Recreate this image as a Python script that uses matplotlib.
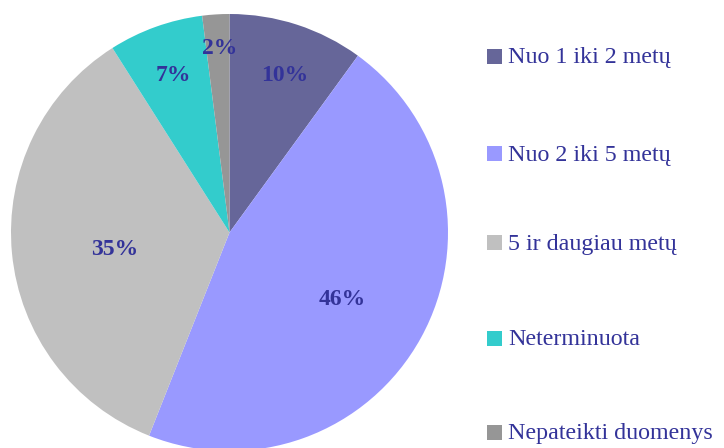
import matplotlib
matplotlib.use("Agg")
import matplotlib.pyplot as plt
from matplotlib.patches import Rectangle
import numpy as np

categories = ["Nuo 1 iki 2 metų", "Nuo 2 iki 5 metų", "5 ir daugiau metų",
              "Neterminuota", "Nepateikti duomenys"]
values = [10, 46, 35, 7, 2]
colors = ["#666699", "#9999FF", "#C0C0C0", "#33CCCC", "#969696"]
label_radius = [0.78, 0.58, 0.54, 0.79, 0.87]
text_color = "#333399"

W, H = 724, 448
fig = plt.figure(figsize=(W / 100, H / 100), dpi=100)
cx, cy, R = 229.5, 448 - 232.5, 218.5
ax = fig.add_axes([(cx - R) / W, (cy - R) / H, 2 * R / W, 2 * R / H])
wedges, _ = ax.pie(values, colors=colors, startangle=90, counterclock=False,
                   radius=1.0, wedgeprops=dict(linewidth=0))
ax.set_xlim(-1, 1)
ax.set_ylim(-1, 1)
ax.set_aspect("equal")
ax.axis("off")

for w, v, r in zip(wedges, values, label_radius):
    ang = np.deg2rad((w.theta1 + w.theta2) / 2)
    ax.text(r * np.cos(ang) + 0.01, r * np.sin(ang) - 0.025, f"{v}%", ha="center",
            va="center", fontsize=17, fontweight="bold", family="Liberation Serif",
            color=text_color)

legend_y = [57, 154, 243, 338, 432]
for cat, col, y in zip(categories, colors, legend_y):
    sq = 15
    fig.add_artist(Rectangle((487 / W, (H - y - sq / 2) / H), sq / W, sq / H,
                             transform=fig.transFigure, facecolor=col, edgecolor="none"))
    fig.text(508 / W, (H - y - 1) / H, cat, ha="left", va="center", fontsize=17.3,
             family="Liberation Serif", color=text_color)

fig.savefig("out.png", dpi=100)
